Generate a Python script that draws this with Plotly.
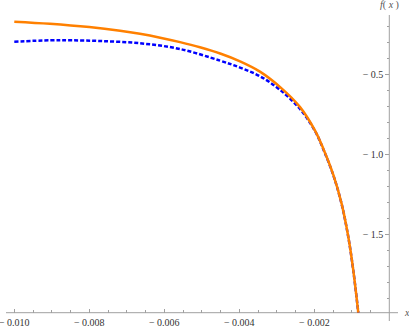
import plotly.graph_objects as go

# orange solid curve
x_orange = [-0.0100, -0.00905, -0.0080, -0.00718, -0.00665, -0.00611, -0.00558, -0.00505,
            -0.00451, -0.00398, -0.00345, -0.00291, -0.00238, -0.00198, -0.00176,
            -0.00149, -0.00127, -0.00109, -0.00096, -0.000827]
y_orange = [-0.171, -0.184, -0.205, -0.228, -0.247, -0.271, -0.299, -0.331,
            -0.370, -0.419, -0.483, -0.580, -0.705, -0.852, -0.965,
            -1.13, -1.31, -1.52, -1.725, -1.99]

# blue dashed curve
x_blue = [-0.0100, -0.00905, -0.0085, -0.00771, -0.00665, -0.00558, -0.00451, -0.00398,
          -0.00345, -0.00291, -0.00238, -0.00198, -0.00176, -0.00149, -0.00127, -0.00109,
          -0.00096, -0.000827]
y_blue = [-0.296, -0.2875, -0.2875, -0.292, -0.306, -0.342, -0.415, -0.458,
          -0.512, -0.598, -0.717, -0.855, -0.968, -1.133, -1.312, -1.522,
          -1.727, -1.99]

x_ticks = [-0.010, -0.008, -0.006, -0.004, -0.002]
x_labels = ["\u2212 0.010", "\u2212 0.008", "\u2212 0.006", "\u2212 0.004", "\u2212 0.002"]
x_minor = [-0.0095, -0.009, -0.0085, -0.0075, -0.007, -0.0065, -0.0055, -0.005, -0.0045,
           -0.0035, -0.003, -0.0025, -0.0015, -0.001, -0.0005]
y_ticks = [-0.5, -1.0, -1.5]
y_labels = ["\u2212 0.5", "\u2212 1.0", "\u2212 1.5"]
y_minor = [-0.2, -0.3, -0.4, -0.6, -0.7, -0.8, -0.9, -1.1, -1.2, -1.3, -1.4,
           -1.6, -1.7, -1.8, -1.9]
x_cross = -1.99  # where the x axis sits

serif = "Liberation Serif, Times New Roman, serif"
axis_col = "#a0a0a0"

fig = go.Figure()
fig.add_trace(go.Scatter(x=x_blue, y=y_blue, mode="lines", line_shape="spline",
                         line=dict(color="rgb(0,0,255)", width=2.5, dash="4px,2px")))
fig.add_trace(go.Scatter(x=x_orange, y=y_orange, mode="lines", line_shape="spline",
                         line=dict(color="rgb(255,128,0)", width=2.5)))

fig.update_layout(
    width=409, height=327,
    margin=dict(l=6, r=11, t=15, b=6, autoexpand=False),
    showlegend=False,
    plot_bgcolor="white", paper_bgcolor="white",
    font=dict(family=serif, size=10, color="#333"),
    xaxis=dict(range=[-0.010221, 0.000232], anchor="free", position=0.0271,
               automargin=False,
               showgrid=False, zeroline=False, showline=False,
               tickmode="array", tickvals=x_ticks, ticktext=x_labels,
               ticks="inside", ticklen=4, tickcolor=axis_col,
               ticklabeloverflow="allow", ticklabelstandoff=2,
               minor=dict(tickmode="array", tickvals=x_minor, ticks="inside", ticklen=2.5,
                          tickcolor=axis_col)),
    yaxis=dict(range=[-2.0419, -0.1294], anchor="free", position=0.9778, side="left",
               automargin=False,
               showgrid=False, zeroline=False, showline=False,
               tickmode="array", tickvals=y_ticks, ticktext=y_labels,
               ticks="outside", ticklen=4, tickcolor=axis_col, ticklabelstandoff=0,
               minor=dict(tickmode="array", tickvals=y_minor, ticks="outside", ticklen=2.5,
                          tickcolor=axis_col)),
    shapes=[
        dict(type="line", xref="paper", yref="y", x0=0, x1=1, y0=x_cross, y1=x_cross,
             line=dict(color=axis_col, width=1), layer="below"),
        dict(type="line", xref="x", yref="paper", x0=0, x1=0, y0=0, y1=1,
             line=dict(color=axis_col, width=1), layer="below"),
    ],
    annotations=[
        dict(text="<i>x</i>", x=1.023, y=0.0271, xref="paper", yref="paper",
             showarrow=False, xanchor="center", yanchor="middle",
             font=dict(family=serif, size=10, color="#555")),
        dict(text="<i>f</i>( <i>x</i> )", x=0.978, y=1.0327, xref="paper", yref="paper",
             showarrow=False, xanchor="center", yanchor="middle",
             font=dict(family=serif, size=10, color="#555")),
    ],
)

fig.write_html("out.html", config={"displayModeBar": False},
               post_script="document.body.style.margin='0';document.body.style.overflow='hidden';")
